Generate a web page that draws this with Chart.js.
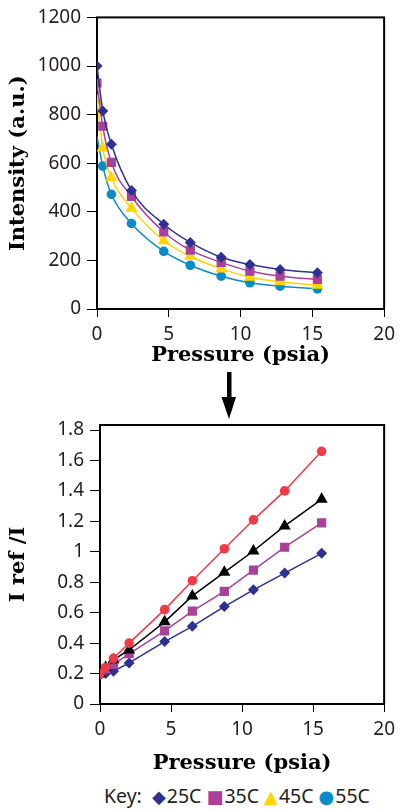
<!DOCTYPE html>
<html>
<head>
<meta charset="utf-8">
<script src="https://cdn.jsdelivr.net/npm/chart.js@4.4.1/dist/chart.umd.min.js"></script>
<style>
  body { margin: 0; background: #fff; }
  #wrap { position: relative; width: 401px; height: 811px; overflow: hidden; }
  #topChart { position: absolute; left: 0; top: 0; }
  #bottomChart { position: absolute; left: 0; top: 400px; }
  #arrow { position: absolute; left: 218px; top: 372px; }
  #key { position: absolute; left: 104px; top: 782px; white-space: nowrap;
         font: 19.5px "Noto Sans", sans-serif; color: #231f20; }
  #key span.sym { font-family: "DejaVu Sans"; font-size: 18px; margin-left: 5px; margin-right: 1px; }
</style>
</head>
<body>
<div id="wrap">
  <canvas id="topChart" width="401" height="372"></canvas>
  <svg id="arrow" width="24" height="50" viewBox="0 0 24 50">
    <rect x="9" y="0" width="4.5" height="26" fill="#000"/>
    <polygon points="3.5,25 18,25 11,47" fill="#000"/>
  </svg>
  <canvas id="bottomChart" width="401" height="380"></canvas>
  <div id="key"></div>
</div>
<script>
// legend key
const keyLabels = ['25C', '35C', '45C', '55C'];
const keyColors = ['#2e3192', '#a7419a', '#ffd400', '#0a8bca'];
const keySymbols = ['\u25C6', '\u25A0', '\u25B2', '\u25CF'];

// top plot: intensity vs pressure
const pressureTop = [0, 0.4, 1.0, 2.4, 4.65, 6.5, 8.65, 10.65, 12.75, 15.35];
const int25 = [1000, 815, 678, 488, 349, 274, 213, 183, 163, 149];
const int35 = [930, 752, 603, 463, 317, 242, 192, 156, 135, 122];
const int45 = [858, 663, 540, 415, 281, 217, 165, 131, 112, 98];
const int55 = [710, 588, 472, 352, 237, 180, 135, 108, 94, 83]; // first one has no marker

// bottom plot: I ref / I vs pressure
const pressureBottom = [0, 0.4, 0.95, 2.05, 4.55, 6.5, 8.75, 10.8, 13.0, 15.6];
const ratio55 = [0.2, 0.24, 0.30, 0.40, 0.62, 0.81, 1.02, 1.21, 1.40, 1.66];
const ratio45 = [0.2, 0.24, 0.29, 0.355, 0.54, 0.71, 0.865, 1.005, 1.17, 1.345];
const ratio35 = [0.2, 0.23, 0.26, 0.33, 0.48, 0.61, 0.74, 0.88, 1.03, 1.19];
const ratio25 = [0.19, 0.2, 0.215, 0.27, 0.41, 0.51, 0.64, 0.75, 0.86, 0.99];

const xTicks = [0, 5, 10, 15, 20];
const intTicks = [0, 200, 400, 600, 800, 1000, 1200];
const ratioTicks = [0, 0.2, 0.4, 0.6, 0.8, 1, 1.2, 1.4, 1.6, 1.8];

const tickFont = { family: 'Noto Sans', size: 19 };
const titleFont = { family: 'DejaVu Serif', size: 21, weight: 'bold' };
const ink = '#231f20';

function pts(xs, ys) {
    return xs.map((x, i) => ({ x: x, y: ys[i] }));
}

// full frame round the plot area
const boxPlugin = {
    id: 'box',
    beforeDatasetsDraw(chart) {
        const a = chart.chartArea;
        const ctx = chart.ctx;
        ctx.save();
        ctx.strokeStyle = '#000';
        ctx.lineWidth = 2;
        ctx.strokeRect(a.left, a.top, a.right - a.left, a.bottom - a.top);
        ctx.restore();
    }
};

function axes(yTicks, yMax, yTitle, yWidth, xHeight) {
    return {
        x: {
            type: 'linear', min: 0, max: 20,
            afterBuildTicks: s => { s.ticks = xTicks.map(v => ({ value: v })); },
            afterFit: s => { s.height = xHeight; },
            ticks: { font: tickFont, color: ink, padding: 6 },
            grid: { drawOnChartArea: false, tickLength: 8, color: '#000', lineWidth: 1 },
            border: { display: false },
            title: { display: true, text: 'Pressure (psia)', font: titleFont, color: '#000',
                     padding: { top: 0, bottom: 4 } }
        },
        y: {
            type: 'linear', min: 0, max: yMax,
            afterBuildTicks: s => { s.ticks = yTicks.map(v => ({ value: v })); },
            afterFit: s => { s.width = yWidth; },
            ticks: { font: tickFont, color: ink, padding: 6, callback: v => String(+v.toFixed(1)) },
            grid: { drawOnChartArea: false, tickLength: 10, color: '#000', lineWidth: 1 },
            border: { display: false },
            title: { display: true, text: yTitle, font: titleFont, color: '#000',
                     padding: { top: 6, bottom: 0 } }
        }
    };
}

function series(data, color, style, radius, extra) {
    return Object.assign({
        data: data,
        borderColor: color,
        backgroundColor: color,
        pointBackgroundColor: color,
        pointBorderColor: color,
        pointStyle: style,
        pointRadius: radius,
        borderWidth: 1.5,
        pointBorderWidth: 0
    }, extra || {});
}

const curve = { cubicInterpolationMode: 'monotone' };

new Chart(document.getElementById('topChart'), {
    type: 'line',
    data: {
        datasets: [
            series(pts(pressureTop, int25), keyColors[0], 'rectRot', 5.5, curve),
            series(pts(pressureTop, int35), keyColors[1], 'rect', 6.5, curve),
            series(pts(pressureTop, int45), keyColors[2], 'triangle', 7, curve),
            series(pts(pressureTop, int55), keyColors[3], 'circle',
                   int55.map((v, i) => i === 0 ? 0 : 4.8), curve)
        ]
    },
    options: {
        responsive: false,
        animation: false,
        layout: { padding: { top: 15, right: 12, bottom: 0, left: 0 } },
        plugins: { legend: { display: false }, tooltip: { enabled: false } },
        scales: axes(intTicks, 1200, 'Intensity (a.u.)', 97, 63)
    },
    plugins: [boxPlugin]
});

new Chart(document.getElementById('bottomChart'), {
    type: 'line',
    data: {
        datasets: [
            series(pts(pressureBottom, ratio55), '#ef3b47', 'circle', 4.8),
            series(pts(pressureBottom, ratio45), '#000000', 'triangle', 7),
            series(pts(pressureBottom, ratio35), keyColors[1], 'rect', 6.5),
            series(pts(pressureBottom, ratio25), keyColors[0], 'rectRot', 5.5)
        ]
    },
    options: {
        responsive: false,
        animation: false,
        layout: { padding: { top: 25, right: 11, bottom: 0, left: 0 } },
        plugins: { legend: { display: false }, tooltip: { enabled: false } },
        scales: axes(ratioTicks, 1.833, 'I ref /I', 100, 76)
    },
    plugins: [boxPlugin]
});

// key line under the plots
const key = document.getElementById('key');
let html = 'Key: ';
keyLabels.forEach((lab, i) => {
    html += '<span class="sym" style="color:' + keyColors[i] + '">' + keySymbols[i] + '</span>' + lab;
});
key.innerHTML = html;
</script>
</body>
</html>
